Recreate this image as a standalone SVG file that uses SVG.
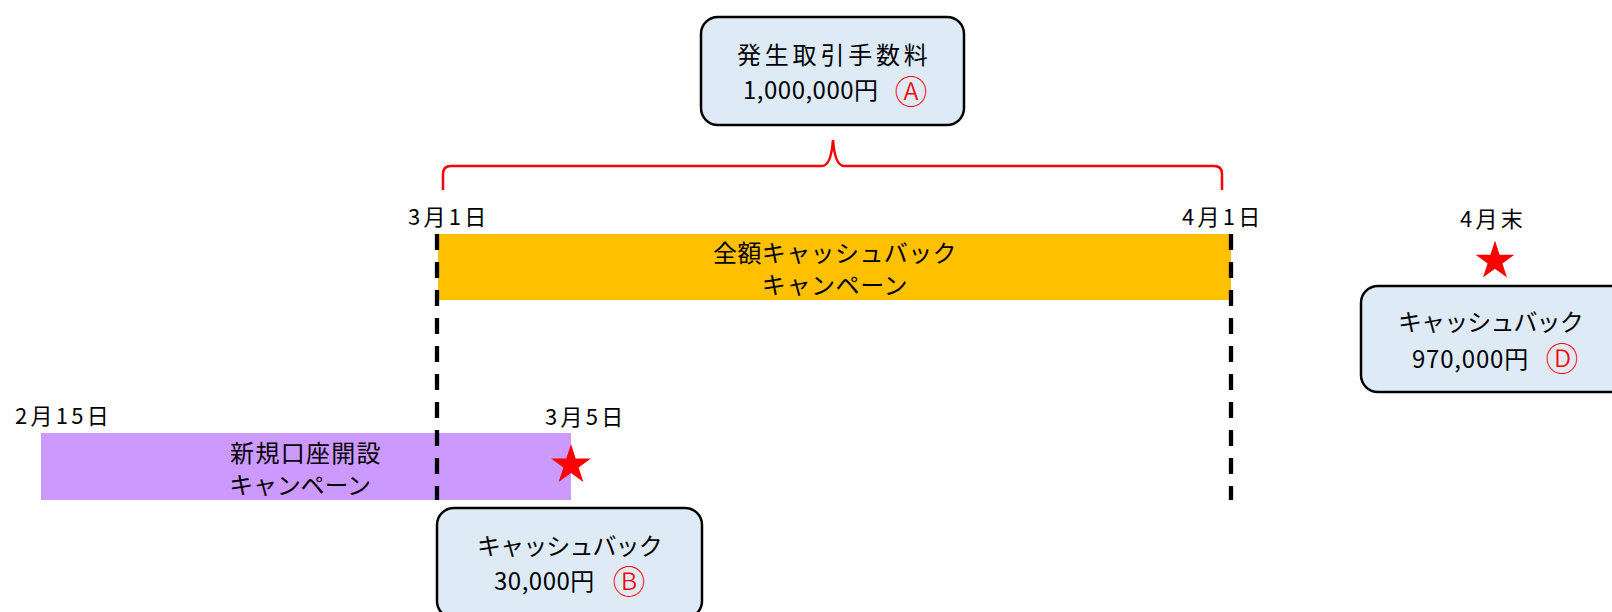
<svg xmlns="http://www.w3.org/2000/svg" width="1612" height="612" viewBox="0 0 1612 612">
<style>
text{font-family:"Noto Sans CJK JP","Noto Sans",sans-serif;fill:#000;}
.t{font-size:24px;}
.d{font-size:22px;letter-spacing:3.3px;}
.c{font-size:33px;font-weight:300;fill:#FF0000;text-anchor:middle;dominant-baseline:central;}
.box{fill:#DEEBF7;stroke:#000;stroke-width:2.5;}
.dash{stroke:#000;stroke-width:4.3;stroke-dasharray:16 12;fill:none;}
.brace{stroke:#FF0000;stroke-width:2.5;fill:none;}
.star{fill:#FF0000;}
</style>
<defs>
<path id="star" d="M0,-20 L4.49,-6.18 L19.02,-6.18 L7.27,2.36 L11.76,16.18 L0,7.64 L-11.76,16.18 L-7.27,2.36 L-19.02,-6.18 L-4.49,-6.18 Z"/>
</defs>
<rect width="1612" height="612" fill="#fff"/>

<g id="bar-full-cashback">
<rect x="438" y="234" width="793" height="66" fill="#FFC000"/>
<text class="t" x="835" y="262" text-anchor="middle" letter-spacing="0.4">全額キャッシュバック</text>
<text class="t" x="835" y="294" text-anchor="middle" letter-spacing="0.6">キャンペーン</text>
</g>

<g id="bar-new-account">
<rect x="41" y="433" width="530" height="67" fill="#CC99FF"/>
<text class="t" x="306" y="462" text-anchor="middle" letter-spacing="1.3">新規口座開設</text>
<text class="t" x="300" y="494" text-anchor="middle" letter-spacing="-0.2">キャンペーン</text>
</g>

<g id="connectors">
<line class="dash" x1="437" y1="234" x2="437" y2="500"/>
<line class="dash" x1="1231" y1="234" x2="1231" y2="500"/>
<path class="brace" d="M443,190 L443,174 Q443,166 451,166 L822,166 Q831,166 833,140 Q835,166 844,166 L1214,166 Q1222,166 1222,174 L1222,190"/>
</g>

<g id="box-fee">
<rect class="box" x="701" y="17" width="263" height="108" rx="17"/>
<text class="t" x="737" y="64" letter-spacing="3.8">発生取引手数料</text>
<text class="t" x="743" y="99" letter-spacing="0.5">1,000,000円</text>
<text class="c" x="911" y="90">Ⓐ</text>
</g>

<g id="box-cashback-b">
<rect class="box" x="437" y="508" width="265" height="110" rx="17"/>
<text class="t" x="477" y="555" letter-spacing="-0.9">キャッシュバック</text>
<text class="t" x="494" y="590" letter-spacing="0.5">30,000円</text>
<text class="c" x="629" y="580">Ⓑ</text>
</g>

<g id="box-cashback-d">
<rect class="box" x="1361" y="286" width="275" height="106" rx="17"/>
<text class="t" x="1398" y="331" letter-spacing="-0.9">キャッシュバック</text>
<text class="t" x="1412" y="368" letter-spacing="0.8">970,000円</text>
<text class="c" x="1562" y="357">Ⓓ</text>
</g>

<g id="labels">
<text class="d" x="408" y="225">3月1日</text>
<text class="d" x="1182" y="225">4月1日</text>
<text class="d" x="1460" y="227">4月末</text>
<text class="d" x="15" y="424">2月15日</text>
<text class="d" x="545" y="425">3月5日</text>
</g>

<g id="stars">
<use href="#star" class="star" transform="translate(571,465) scale(1.05)"/>
<use href="#star" class="star" transform="translate(1495,261) scale(1.02)"/>
</g>
</svg>
